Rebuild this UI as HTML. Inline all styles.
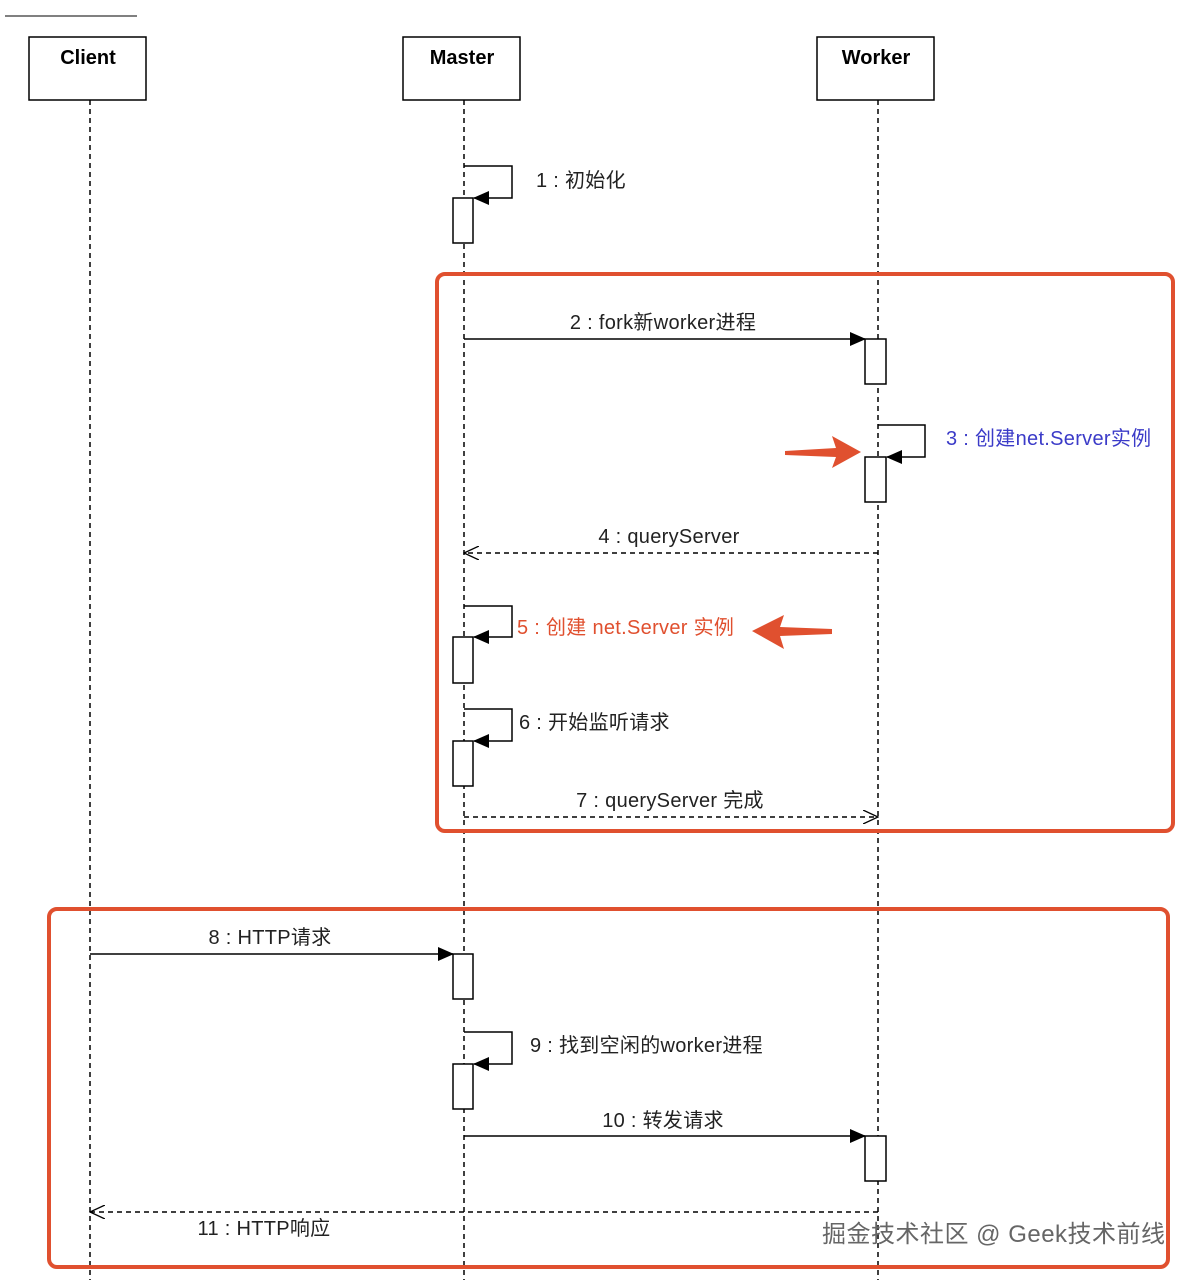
<!DOCTYPE html>
<html><head><meta charset="utf-8"><style>
html,body{margin:0;padding:0;background:#fff}
text{font-family:"Liberation Sans","Noto Sans CJK SC",sans-serif}
</style></head><body>
<svg width="1199" height="1280" viewBox="0 0 1199 1280" xmlns="http://www.w3.org/2000/svg">
<defs>
<marker id="fa" markerWidth="16" markerHeight="14" refX="15" refY="7" orient="auto" markerUnits="userSpaceOnUse"><path d="M0,0 L16,7 L0,14 Z" fill="#000"/></marker>
<marker id="oa" markerWidth="16" markerHeight="14" refX="15" refY="7" orient="auto" markerUnits="userSpaceOnUse"><path d="M0,0 L15,7 L0,14" fill="none" stroke="#000" stroke-width="1.3"/></marker>
</defs>
<line x1="5" y1="16" x2="137" y2="16" stroke="#000" stroke-width="1"/>
<g fill="#fff" stroke="#000" stroke-width="1.5">
<rect x="29" y="37" width="117" height="63"/>
<rect x="403" y="37" width="117" height="63"/>
<rect x="817" y="37" width="117" height="63"/>
</g>
<g font-size="20" font-weight="bold" text-anchor="middle">
<text x="88" y="64">Client</text><text x="462" y="64">Master</text><text x="876" y="64">Worker</text>
</g>
<g stroke="#000" stroke-width="1.5" stroke-dasharray="5,4">
<line x1="90" y1="100" x2="90" y2="1280"/>
<line x1="464" y1="100" x2="464" y2="1280"/>
<line x1="878" y1="100" x2="878" y2="1280"/>
</g>
<rect x="437" y="274" width="736" height="557" rx="8" fill="none" stroke="#e0502f" stroke-width="4"/>
<rect x="49" y="909" width="1119" height="358" rx="8" fill="none" stroke="#e0502f" stroke-width="4"/>
<g fill="none" stroke="#000" stroke-width="1.5">
<path d="M464,166 H512 V198 H474" marker-end="url(#fa)"/>
<line x1="464" y1="339" x2="865" y2="339" marker-end="url(#fa)"/>
<path d="M878,425 H925 V457 H887" marker-end="url(#fa)"/>
<line x1="878" y1="553" x2="464" y2="553" stroke-dasharray="5,4" marker-end="url(#oa)"/>
<path d="M464,606 H512 V637 H474" marker-end="url(#fa)"/>
<path d="M464,709 H512 V741 H474" marker-end="url(#fa)"/>
<line x1="464" y1="817" x2="878" y2="817" stroke-dasharray="5,4" marker-end="url(#oa)"/>
<line x1="90" y1="954" x2="453" y2="954" marker-end="url(#fa)"/>
<path d="M464,1032 H512 V1064 H474" marker-end="url(#fa)"/>
<line x1="464" y1="1136" x2="865" y2="1136" marker-end="url(#fa)"/>
<line x1="878" y1="1212" x2="90" y2="1212" stroke-dasharray="5,4" marker-end="url(#oa)"/>
</g>
<g fill="#fff" stroke="#000" stroke-width="1.5">
<rect x="453" y="198" width="20" height="45"/>
<rect x="865" y="339" width="21" height="45"/>
<rect x="865" y="457" width="21" height="45"/>
<rect x="453" y="637" width="20" height="46"/>
<rect x="453" y="741" width="20" height="45"/>
<rect x="453" y="954" width="20" height="45"/>
<rect x="453" y="1064" width="20" height="45"/>
<rect x="865" y="1136" width="21" height="45"/>
</g>
<path d="M785,451 L836,448 L832,436 L861,452 L832,468 L836,457 L785,455 Z" fill="#e0502f"/>
<path d="M832,629 L780,627 L784,615 L752,631 L784,649 L780,636 L832,634 Z" fill="#e0502f"/>
<g font-size="20" fill="#222" letter-spacing="0.3">
<text x="536" y="187">1 : 初始化</text>
<text x="663" y="329" text-anchor="middle">2 : fork新worker进程</text>
<text x="946" y="445" fill="#3b3bc8">3 : 创建net.Server实例</text>
<text x="669" y="543" text-anchor="middle">4 : queryServer</text>
<text x="517" y="634" fill="#e0502f">5 : 创建 net.Server 实例</text>
<text x="519" y="729">6 : 开始监听请求</text>
<text x="670" y="807" text-anchor="middle">7 : queryServer 完成</text>
<text x="270" y="944" text-anchor="middle">8 : HTTP请求</text>
<text x="530" y="1052">9 : 找到空闲的worker进程</text>
<text x="663" y="1127" text-anchor="middle">10 : 转发请求</text>
<text x="264" y="1235" text-anchor="middle">11 : HTTP响应</text>
</g>
<text x="822" y="1242" font-size="24" fill="#666" letter-spacing="0.5">掘金技术社区 @ Geek技术前线</text>
</svg>
</body></html>
